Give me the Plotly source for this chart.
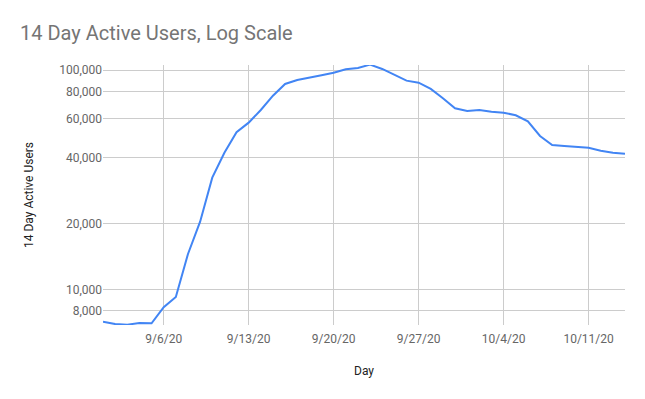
import plotly.graph_objects as go
import pandas as pd

days = pd.date_range("2020-09-01", "2020-10-14", freq="D")
active_users = [
    7110, 6940, 6890, 7020, 7000, 8280, 9220, 14500, 20360, 32330,
    42040, 52120, 57650, 65880, 76560, 86590, 90300, 92210, 94880, 97500,
    101060, 102450, 106070, 101370, 95170, 89650, 87790, 82150, 74500, 67070,
    65190, 65880, 64700, 64020, 62280, 58500, 50120, 45600, 45120, 44790,
    44320, 42950, 42040, 41600,
]
y_ticks = [8000, 10000, 20000, 40000, 60000, 80000, 100000]
x_ticks = ["2020-09-06", "2020-09-13", "2020-09-20", "2020-09-27", "2020-10-04", "2020-10-11"]
x_tick_labels = ["9/6/20", "9/13/20", "9/20/20", "9/27/20", "10/4/20", "10/11/20"]

W, H = 629, 383  # page body adds an 8px margin

fig = go.Figure()
fig.add_trace(go.Scatter(
    x=days, y=active_users, mode="lines",
    line=dict(color="#4285F4", width=2),
    hoverinfo="x+y",
))

fig.update_layout(
    width=W, height=H,
    margin=dict(l=95, r=12, t=57, b=66),
    paper_bgcolor="white", plot_bgcolor="white",
    font=dict(family="Roboto", size=12, color="#444444"),
    showlegend=False,
    title=dict(text="14 Day Active Users, Log Scale", x=12 / W, xanchor="left",
               y=1 - 25 / H, yanchor="middle",
               font=dict(family="Roboto", size=20, color="#757575")),
)
fig.update_xaxes(
    range=["2020-09-01", "2020-10-14"],
    tickvals=x_ticks, ticktext=x_tick_labels,
    showgrid=True, gridcolor="#cccccc", gridwidth=1,
    zeroline=False, showline=False, ticks="",
    ticklabelstandoff=5,
    tickfont=dict(color="#666666", size=12),
    title=dict(text="Day", font=dict(color="#222222", size=12), standoff=21),
    automargin=False,
)
fig.update_yaxes(
    type="log",
    range=[3.837, 5.024],
    tickvals=y_ticks, tickformat=",",
    showgrid=True, gridcolor="#cccccc", gridwidth=1,
    zeroline=False, showline=False, ticks="",
    tickfont=dict(color="#666666", size=12),
    title=dict(text="14 Day Active Users", font=dict(color="#222222", size=12), standoff=22),
    automargin=False,
)

fig.write_html("out.html")
